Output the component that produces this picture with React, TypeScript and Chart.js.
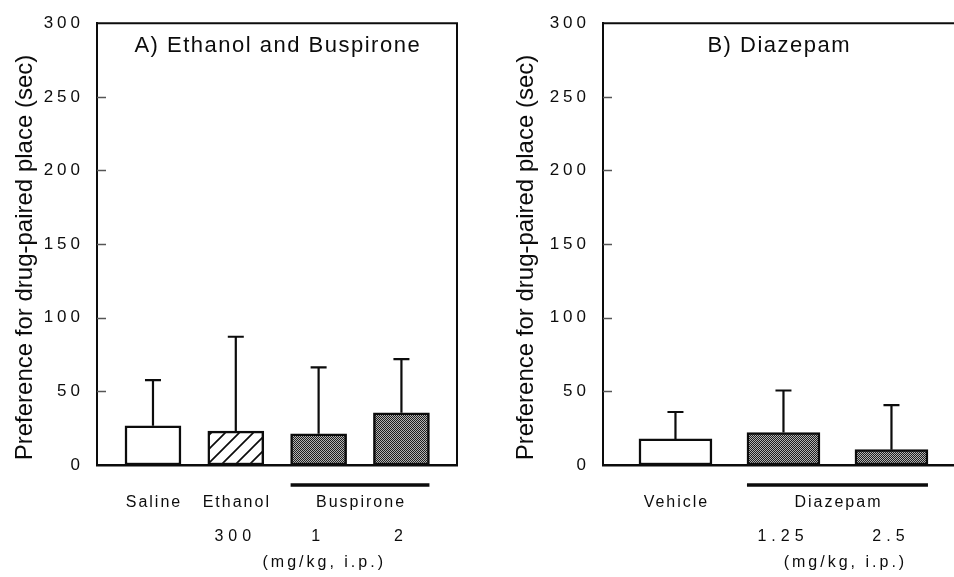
import React, { useEffect, useRef } from "react";
import { Chart, registerables } from "chart.js";
Chart.register(...registerables);

const FONT = '"Liberation Sans", Arial, Helvetica, sans-serif';
const INK = "#0c0c0c";

// ---------- shared ----------
const yTicks = [0, 50, 100, 150, 200, 250, 300];
const yTitle = "Preference for drug-paired place (sec)";
const unitLabel = "(mg/kg, i.p.)";

// ---------- Panel A ----------
const aTitle = "A) Ethanol and Buspirone";
const aCategories = ["Saline", "Ethanol 300", "Buspirone 1", "Buspirone 2"];
const aMeans = [26.6, 23.0, 21.2, 35.5];
const aSem = [31.0, 64.1, 45.1, 36.4];
const aFills = ["open", "hatch", "dots", "dots"];
const aNameLabels = ["Saline", "Ethanol", "Buspirone"];
const aNamePos = [0, 1, 2.5];
const aDoseLabels = ["", "300", "1", "2"];
const aGroup = [2, 3];
const aUnitPos = 2.05;

// ---------- Panel B ----------
const bTitle = "B) Diazepam";
const bCategories = ["Vehicle", "Diazepam 1.25", "Diazepam 2.5"];
const bMeans = [17.7, 22.0, 10.4];
const bSem = [18.3, 28.6, 30.3];
const bFills = ["open", "dots", "dots"];
const bNameLabels = ["Vehicle", "Diazepam"];
const bNamePos = [0, 1.5];
const bDoseLabels = ["", "1.25", "2.5"];
const bGroup = [1, 2];
const bUnitPos = 1.56;

type PanelCfg = {
  left: number;
  width: number;
  axisWidth: number;
  padRight: number;
  xMin: number;
  xMax: number;
  barThickness: number;
  yTitleX: number;
  rightBorder: boolean;
  title: string;
  categories: string[];
  means: number[];
  sem: number[];
  fills: string[];
  names: string[];
  namePos: number[];
  doses: string[];
  group: number[];
  unitPos: number;
};

const PANEL_A: PanelCfg = {
  left: 0,
  width: 477,
  axisWidth: 97,
  padRight: 20,
  xMin: -0.676,
  xMax: 3.671,
  barThickness: 56,
  yTitleX: 31.5,
  rightBorder: true,
  title: aTitle,
  categories: aCategories,
  means: aMeans,
  sem: aSem,
  fills: aFills,
  names: aNameLabels,
  namePos: aNamePos,
  doses: aDoseLabels,
  group: aGroup,
  unitPos: aUnitPos,
};

const PANEL_B: PanelCfg = {
  left: 477,
  width: 477,
  axisWidth: 126,
  padRight: 0,
  xMin: -0.671,
  xMax: 2.579,
  barThickness: 73,
  yTitleX: 56,
  rightBorder: false,
  title: bTitle,
  categories: bCategories,
  means: bMeans,
  sem: bSem,
  fills: bFills,
  names: bNameLabels,
  namePos: bNamePos,
  doses: bDoseLabels,
  group: bGroup,
  unitPos: bUnitPos,
};

function makeHatch(): CanvasPattern | string {
  const c = document.createElement("canvas");
  c.width = 14;
  c.height = 14;
  const g = c.getContext("2d");
  if (!g) return "#fff";
  g.fillStyle = "#fff";
  g.fillRect(0, 0, 14, 14);
  g.strokeStyle = INK;
  g.lineWidth = 1.7;
  g.beginPath();
  g.moveTo(-2, 16);
  g.lineTo(16, -2);
  g.moveTo(-2, 2);
  g.lineTo(2, -2);
  g.moveTo(12, 16);
  g.lineTo(16, 12);
  g.stroke();
  return g.createPattern(c, "repeat") || "#fff";
}

function makeDots(): CanvasPattern | string {
  const c = document.createElement("canvas");
  c.width = 2;
  c.height = 2;
  const g = c.getContext("2d");
  if (!g) return "#666";
  g.fillStyle = "#b4b4b4";
  g.fillRect(0, 0, 2, 2);
  g.fillStyle = "#1e1e1e";
  g.fillRect(0, 0, 1, 1);
  g.fillRect(1, 1, 1, 1);
  return g.createPattern(c, "repeat") || "#666";
}

function drawText(
  ctx: CanvasRenderingContext2D,
  s: string,
  x: number,
  y: number,
  size: number,
  spacing: number
) {
  ctx.save();
  ctx.font = `${size}px ${FONT}`;
  (ctx as any).letterSpacing = `${spacing}px`;
  ctx.fillStyle = INK;
  ctx.textAlign = "center";
  ctx.textBaseline = "alphabetic";
  ctx.fillText(s, x + spacing / 2, y);
  ctx.restore();
}

function Panel({ cfg }: { cfg: PanelCfg }) {
  const ref = useRef<HTMLCanvasElement | null>(null);

  useEffect(() => {
    if (!ref.current) return;
    const hatch = makeHatch();
    const dots = makeDots();
    const fillFor = (f: string) => (f === "hatch" ? hatch : f === "dots" ? dots : "#ffffff");

    const decor = {
      id: "decor",
      beforeDraw(chart: any) {
        chart.ctx.letterSpacing = "4px";
      },
      afterDatasetsDraw(chart: any) {
        const ctx: CanvasRenderingContext2D = chart.ctx;
        const ys = chart.scales.y;
        const meta = chart.getDatasetMeta(0);
        ctx.save();
        ctx.strokeStyle = INK;
        ctx.lineWidth = 2.2;
        meta.data.forEach((bar: any, i: number) => {
          const top = ys.getPixelForValue(cfg.means[i] + cfg.sem[i]);
          ctx.beginPath();
          ctx.moveTo(bar.x, bar.y);
          ctx.lineTo(bar.x, top);
          ctx.moveTo(bar.x - 8, top);
          ctx.lineTo(bar.x + 8, top);
          ctx.stroke();
        });
        ctx.restore();
      },
      afterDraw(chart: any) {
        const ctx: CanvasRenderingContext2D = chart.ctx;
        const area = chart.chartArea;
        const xs = chart.scales.x;
        const ys = chart.scales.y;
        ctx.save();
        (ctx as any).letterSpacing = "0px";
        // frame: top + right
        ctx.strokeStyle = INK;
        ctx.lineWidth = 2;
        ctx.beginPath();
        ctx.moveTo(area.left, area.top);
        ctx.lineTo(cfg.rightBorder ? area.right : area.right + 2, area.top);
        if (cfg.rightBorder) ctx.lineTo(area.right, area.bottom);
        ctx.stroke();
        // inward ticks
        ctx.strokeStyle = "#555";
        ctx.lineWidth = 1.5;
        yTicks.forEach((v) => {
          if (v === 0 || v === 300) return;
          const y = Math.round(ys.getPixelForValue(v)) + 0.5;
          ctx.beginPath();
          ctx.moveTo(area.left, y);
          ctx.lineTo(area.left + 9, y);
          ctx.stroke();
        });
        ctx.restore();

        // panel title
        drawText(ctx, cfg.title, (area.left + area.right) / 2, 52, 22, 1.5);

        // y-axis title
        ctx.save();
        ctx.translate(cfg.yTitleX, 257.5);
        ctx.rotate(-Math.PI / 2);
        ctx.font = `24px ${FONT}`;
        (ctx as any).letterSpacing = "0px";
        ctx.fillStyle = INK;
        ctx.textAlign = "center";
        ctx.textBaseline = "alphabetic";
        ctx.fillText(yTitle, 0, 0);
        ctx.restore();

        // category names
        cfg.names.forEach((n, i) => {
          drawText(ctx, n, xs.getPixelForValue(cfg.namePos[i]), 507, 16, 2);
        });
        // doses
        cfg.doses.forEach((d, i) => {
          if (d) drawText(ctx, d, xs.getPixelForValue(i) - 3, 541, 16, 5);
        });
        // unit
        drawText(ctx, unitLabel, xs.getPixelForValue(cfg.unitPos), 567, 16, 3);
        // group line
        const meta = chart.getDatasetMeta(0);
        const b0 = meta.data[cfg.group[0]];
        const b1 = meta.data[cfg.group[cfg.group.length - 1]];
        ctx.save();
        ctx.strokeStyle = INK;
        ctx.lineWidth = 3.5;
        ctx.beginPath();
        ctx.moveTo(b0.x - cfg.barThickness / 2, 485);
        ctx.lineTo(b1.x + cfg.barThickness / 2, 485);
        ctx.stroke();
        ctx.restore();
      },
    };

    const chart = new Chart(ref.current, {
      type: "bar",
      data: {
        labels: cfg.categories,
        datasets: [
          {
            data: cfg.means.map((m, i) => ({ x: i, y: m })) as any,
            backgroundColor: cfg.fills.map(fillFor) as any,
            borderColor: INK,
            borderWidth: 2.5,
            borderSkipped: false,
            barThickness: cfg.barThickness,
          },
        ],
      },
      options: {
        responsive: false,
        animation: false,
        devicePixelRatio: 1,
        layout: { padding: { left: 0, right: cfg.padRight, top: 17, bottom: 0 } },
        plugins: {
          legend: { display: false },
          tooltip: { enabled: false },
          title: { display: false },
        },
        scales: {
          x: {
            type: "linear",
            offset: false,
            min: cfg.xMin,
            max: cfg.xMax,
            ticks: { display: false },
            grid: { display: false, drawTicks: false, tickLength: 0, offset: false },
            border: { display: true, color: INK, width: 2.5 },
            afterFit: (s: any) => {
              s.height = 112;
            },
          },
          y: {
            min: 0,
            max: 300,
            afterBuildTicks: (s: any) => {
              s.ticks = yTicks.map((v) => ({ value: v }));
            },
            ticks: {
              color: INK,
              padding: 13,
              font: { family: FONT, size: 17 },
              autoSkip: false,
            },
            grid: { display: false, drawTicks: false, tickLength: 0 },
            border: { display: true, color: INK, width: 2 },
            afterFit: (s: any) => {
              s.width = cfg.axisWidth;
            },
          },
        },
      } as any,
      plugins: [decor],
    });
    return () => chart.destroy();
  }, [cfg]);

  return (
    <canvas
      ref={ref}
      width={cfg.width}
      height={577}
      style={{ position: "absolute", left: cfg.left, top: 0, width: cfg.width, height: 577 }}
    />
  );
}

export default function App() {
  return (
    <div
      style={{
        position: "fixed",
        left: 0,
        top: 0,
        width: 954,
        height: 577,
        background: "#ffffff",
        overflow: "hidden",
      }}
    >
      <Panel cfg={PANEL_A} />
      <Panel cfg={PANEL_B} />
    </div>
  );
}
